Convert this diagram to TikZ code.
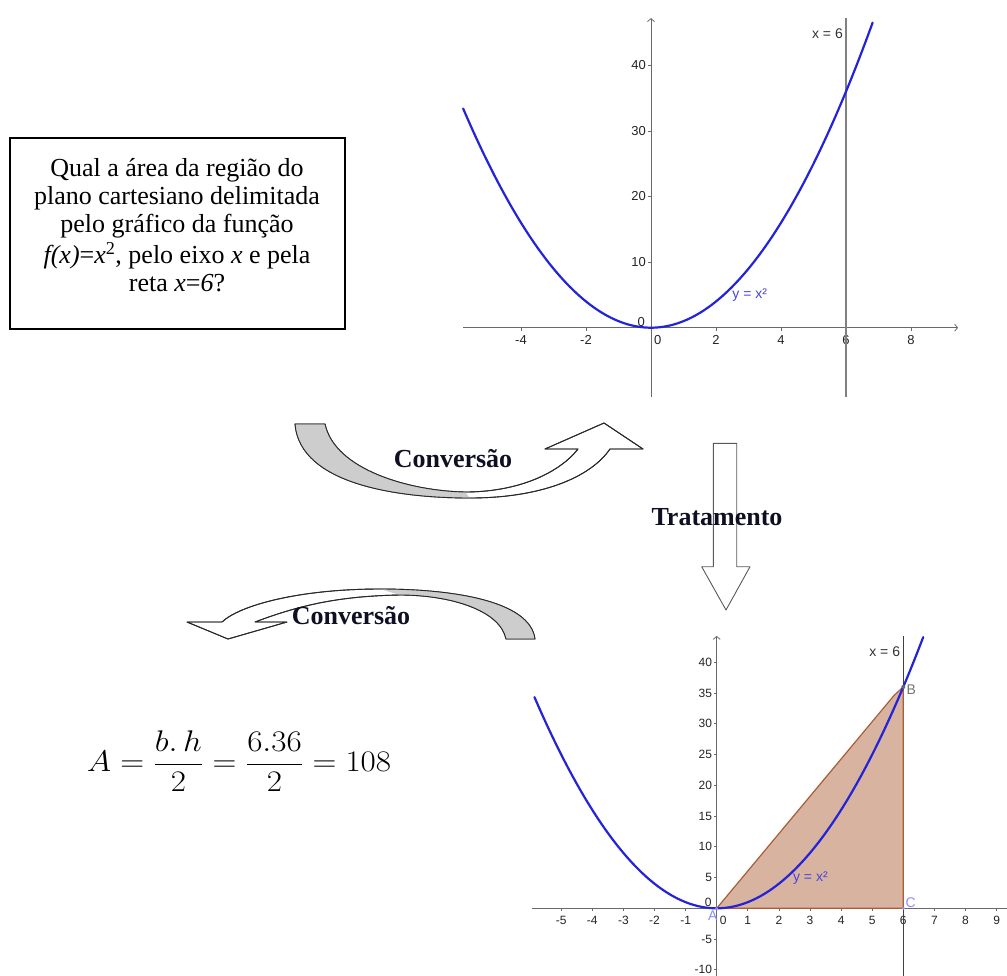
\documentclass[tikz,border=0pt]{standalone}
\usepackage{fontspec}
\setmainfont{Liberation Serif}
\newfontfamily\gsans{Liberation Sans}
\usetikzlibrary{arrows.meta}
\definecolor{curveblue}{RGB}{35,35,215}
\definecolor{axisgray}{RGB}{105,105,105}
\definecolor{ticktext}{RGB}{35,35,35}
\definecolor{bandgray}{RGB}{205,205,205}
\definecolor{bandline}{RGB}{40,40,40}
\definecolor{polyfill}{RGB}{216,180,160}
\definecolor{polyedge}{RGB}{170,92,52}
\definecolor{ptblue}{RGB}{140,140,255}
\definecolor{headtext}{RGB}{15,15,35}
\begin{document}
\begin{tikzpicture}[x=1pt,y=-1pt,
  axisline/.style={draw=axisgray, line width=0.8pt, -{Straight Barb[length=3pt,width=7pt]}},
  tickmark/.style={draw=axisgray, line width=0.8pt},
  ticklab/.style={font=\gsans\fontsize{13}{13}\selectfont, text=ticktext, inner sep=0pt},
  ticklabs/.style={font=\gsans\fontsize{12}{12}\selectfont, text=ticktext, inner sep=0pt},
  curvestyle/.style={draw=curveblue, line width=2.2pt, line cap=round},
  band/.style={fill=white, draw=bandline, line width=0.9pt, line join=round},
  bandshade/.style={fill=bandgray},
  boldlab/.style={font=\bfseries\fontsize{26}{28}\selectfont, text=headtext, inner sep=0pt},
  glabel/.style={font=\gsans\fontsize{14}{14}\selectfont, inner sep=0pt}]
\useasboundingbox (0,0) rectangle (1007,975);

% ---------------- question box ----------------
\node[draw=black, line width=1.2pt, minimum width=335pt, minimum height=191pt, inner sep=0pt] (qbox) at (177.5,233.5) {};
\node[align=center, inner sep=0pt, font=\fontsize{26}{28}\selectfont] (qtext) at (177,225)
 {Qual a área da região do\\ plano cartesiano delimitada\\ pelo gráfico da função\\[3pt]
  \textit{f(x)}=\textit{x}\textsuperscript{2}, pelo eixo \textit{x} e pela\\ reta \textit{x}=\textit{6}?};

% ---------------- top graph ----------------
\begin{scope}[shift={(651,327.7)}, x=32.5pt, y=6.56pt]
  \coordinate (tO) at (0,0);
  \draw[axisline] (-5.78,0) -- (9.45,0);
  \draw[axisline] (0,-10.56) -- (0,47.2);
  \foreach \t in {-4,-2,2,4,6,8}{
    \draw[tickmark] (\t,0) -- ++(0,-3pt);
    \node[ticklab, anchor=north] at ([yshift=-7.5pt]\t,0) {\t};}
  \foreach \t in {10,20,30,40}{
    \draw[tickmark] (0,\t) -- ++(-3pt,0);
    \node[ticklab, anchor=east] at ([xshift=-5pt]0,\t) {\t};}
  \node[ticklab, anchor=south east] at ([xshift=-6pt,yshift=1pt]0,0) {0};
  \node[ticklab, anchor=north west] at ([xshift=3pt,yshift=-7.5pt]0,0) {0};
  \draw[draw=black!50, line width=2.6pt] (6,-10.56) -- (6,47.2);
  \node[glabel, anchor=east, text=black!80] (tx6) at ([xshift=-3pt]6,44.8) {x = 6};
  \draw[curvestyle] plot[domain=-5.78:6.82, samples=120] (\x,{\x*\x});
  \node[glabel, anchor=west, text=curveblue!85] (tyx) at (2.5,5.0) {y = x²};
\end{scope}

% ---------------- bottom graph ----------------
\begin{scope}[shift={(716.7,908.3)}, x=31.1pt, y=6.15pt]
  \coordinate (A) at (0,0);
  \coordinate (B) at (6,36);
  \coordinate (C) at (6,0);
  \draw[axisline] (-5.94,0) -- (9.6,0);
  \draw[axisline] (0,-11) -- (0,44.3);
  \foreach \t in {-5,-4,-3,-2,-1,1,2,3,4,5,6,7,8,9}{
    \draw[tickmark] (\t,0) -- ++(0,-3pt);
    \node[ticklabs, anchor=north] at ([yshift=-8pt]\t,0) {\t};}
  \foreach \t in {-10,-5,5,10,15,20,25,30,35,40}{
    \draw[tickmark] (0,\t) -- ++(-3pt,0);
    \node[ticklabs, anchor=east] at ([xshift=-4.5pt]0,\t) {\t};}
  \node[ticklabs, anchor=south east] at ([xshift=-5pt,yshift=1pt]0,0) {0};
  \node[ticklabs, anchor=north west] at ([xshift=3pt,yshift=-8pt]0,0) {0};
  \draw[draw=black!75, line width=1.3pt] (6,-11) -- (6,44.3);
  \filldraw[fill=polyfill, draw=polyedge, line width=1.2pt, line join=round]
    (A) -- (5.7,34.6) -- (B) -- (C) -- cycle;
  \node[glabel, anchor=east, text=black!80] (bx6) at ([xshift=-3pt]6,41.8) {x = 6};
  \draw[curvestyle] plot[domain=-5.86:6.64, samples=120] (\x,{\x*\x});
  \node[glabel, anchor=west, text=curveblue!85] (byx) at (2.45,4.9) {y = x²};
  \fill[black!60] (B) circle (2pt);
  \fill[ptblue] (C) circle (1.6pt);
  \fill[ptblue] (A) circle (1.6pt);
  \node[glabel, text=black!55, anchor=west] at ([xshift=3pt,yshift=-3pt]B) {B};
  \node[glabel, text=ptblue, anchor=south west] at ([xshift=2pt,yshift=0pt]C) {C};
  \node[glabel, text=ptblue, anchor=north east] at ([xshift=1pt,yshift=-2pt]A) {A};
\end{scope}

% ---------------- upper curved arrow (Conversão) ----------------
\path[band] (295,424) -- (325,424)
  .. controls (335,470) and (410,491) .. (465,492)
  .. controls (520,492) and (560,472) .. (578,449)
  -- (545,449) -- (604,423) -- (643,449) -- (610,449)
  .. controls (590,478) and (540,498) .. (470,498)
  .. controls (400,498) and (300,485) .. (295,424) -- cycle;
\path[bandshade] (295,424) -- (325,424)
  .. controls (335,470) and (410,491) .. (465,492) -- (470,498)
  .. controls (400,498) and (300,485) .. (295,424) -- cycle;
\draw[draw=bandline, line width=0.9pt, line join=round] (295,424) -- (325,424)
  .. controls (335,470) and (410,491) .. (465,492)
  .. controls (520,492) and (560,472) .. (578,449)
  -- (545,449) -- (604,423) -- (643,449) -- (610,449)
  .. controls (590,478) and (540,498) .. (470,498)
  .. controls (400,498) and (300,485) .. (295,424) -- cycle;
\node[boldlab] (conv1) at (453,459) {Conversão};

% ---------------- vertical arrow (Tratamento) ----------------
\path[band, draw=black!65] (713.3,443.3) -- (736.7,443.3) -- (736.7,566.7) -- (750,566.7)
  -- (726,610) -- (701.7,566.7) -- (713.3,566.7) -- cycle;
\node[boldlab] (trat) at (717,517) {Tratamento};

% ---------------- lower curved arrow (Conversão) ----------------
\path[band] (506,639) -- (535,639)
  .. controls (530,600) and (450,589) .. (380,589)
  .. controls (300,589) and (240,605) .. (222,622)
  -- (187,622) -- (228,639) -- (287,622) -- (255,622)
  .. controls (300,605) and (340,596) .. (400,595)
  .. controls (450,595) and (500,610) .. (506,639) -- cycle;
\path[bandshade] (506,639) -- (535,639)
  .. controls (530,600) and (450,589) .. (380,589) -- (400,595)
  .. controls (450,595) and (500,610) .. (506,639) -- cycle;
\draw[draw=bandline, line width=0.9pt, line join=round] (506,639) -- (535,639)
  .. controls (530,600) and (450,589) .. (380,589)
  .. controls (300,589) and (240,605) .. (222,622)
  -- (187,622) -- (228,639) -- (287,622) -- (255,622)
  .. controls (300,605) and (340,596) .. (400,595)
  .. controls (450,595) and (500,610) .. (506,639) -- cycle;
\node[boldlab] (conv2) at (351,616) {Conversão};

% ---------------- formula ----------------
\node[inner sep=0pt, font=\fontsize{24}{28}\selectfont] (formula) at (239,761)
  {\scalebox{1.33}[1.2]{$\displaystyle A=\frac{b.\,h}{2}=\frac{6.36}{2}=108$}};
\end{tikzpicture}
\end{document}
